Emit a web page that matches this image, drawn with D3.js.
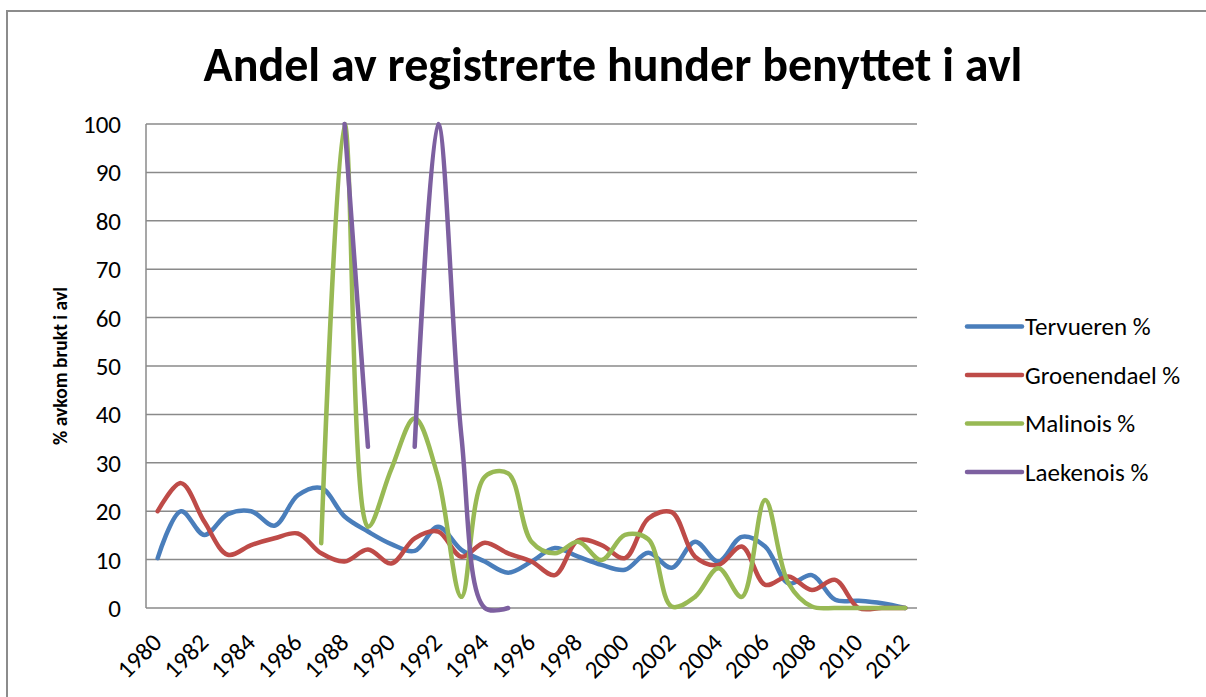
<!DOCTYPE html>
<html>
<head>
<meta charset="utf-8">
<script src="https://cdn.jsdelivr.net/npm/d3@7"></script>
<style>
  body { margin: 0; background: #fff; }
  svg { display: block; font-family: Carlito, Calibri, Lato, sans-serif; }
</style>
</head>
<body>
<div id="chart"></div>
<script>
// years on the x axis (one point per year)
const years = d3.range(1980, 2013)

// series values, null = no value that year
const tervueren = [10.3, 20, 15.1, 19.4, 20, 17, 23.3, 24.8, 18.9, 15.8, 13.2, 11.8, 16.8, 12, 9.6,
    7.3, 9.6, 12.4, 10.6, 8.9, 7.9, 11.4, 8.3, 13.7, 9.6, 14.7, 12.7, 5.1, 6.8, 1.7, 1.5, 1, 0]
const groenendael = [20, 25.8, 17.8, 11, 13, 14.4, 15.4, 11.3, 9.6, 12.1, 9.2, 14.4, 15.8, 10.6, 13.5,
    11.3, 9.6, 6.8, 14, 13, 10.3, 18.5, 19.8, 10.6, 8.9, 12.7, 4.8, 6.5, 3.7, 5.8, 0, 0, 0]
const malinois = [null, null, null, null, null, null, null, 13.4, 100, 16.8, 28.7, 39.2, 27, 2.3, 27.1,
    27.8, 13.7, 11.3, 13.7, 9.9, 15.1, 14.2, 0.3, 2.3, 8.2, 2.3, 22.3, 5.1, 0.3, 0, 0, 0, 0]
const laekenois = [null, null, null, null, null, null, null, null, 100, 33.3, null, 33.3, 100, 35.5, 0,
    0, null, null, null, null, null, null, null, null, null, null, null, null, null, null, null, null, null]

const seriesNames = ["Tervueren %", "Groenendael %", "Malinois %", "Laekenois %"]
const seriesColors = ["#4a7ebb", "#be4b48", "#98b954", "#7d60a0"]
const yTicks = d3.range(0, 101, 10)
const xLabels = years.filter(y => y % 2 === 0)

const titleText = "Andel av registrerte hunder benyttet i avl"
const yTitleText = "% avkom brukt i avl"

const series = [tervueren, groenendael, malinois, laekenois].map((values, i) => ({
    name: seriesNames[i],
    color: seriesColors[i],
    values: values
}))

const W = 1206, H = 697
const plot = { left: 146, right: 917, top: 124, bottom: 608 }
const labelSize = 25

const svg = d3.select("#chart")
    .append("svg")
    .attr("width", W)
    .attr("height", H)

// chart frame
svg.append("rect")
    .attr("x", 7)
    .attr("y", 11)
    .attr("width", W + 20)
    .attr("height", H + 20)
    .attr("fill", "#fff")
    .attr("stroke", "#8c8c8c")
    .attr("stroke-width", 2)

// scales
const x = d3.scalePoint()
    .domain(years)
    .range([plot.left, plot.right])
    .padding(0.5)

const y = d3.scaleLinear()
    .domain([0, 100])
    .range([plot.bottom, plot.top])

// horizontal gridlines
svg.append("g")
    .selectAll("line")
    .data(yTicks)
    .join("line")
    .attr("x1", plot.left)
    .attr("x2", plot.right)
    .attr("y1", d => y(d))
    .attr("y2", d => y(d))
    .attr("stroke", "#8a8a8a")
    .attr("stroke-width", 1.5)

// left axis line
svg.append("line")
    .attr("x1", plot.left)
    .attr("x2", plot.left)
    .attr("y1", y(100))
    .attr("y2", y(0))
    .attr("stroke", "#8a8a8a")
    .attr("stroke-width", 1.5)

// y axis labels
const yAxis = svg.append("g")
    .attr("transform", `translate(${plot.left - 25},0)`)
    .call(d3.axisLeft(y).tickValues(yTicks).tickSize(0).tickPadding(0))
yAxis.select(".domain").remove()
yAxis.selectAll("text")
    .attr("font-family", "Carlito, Calibri, Lato, sans-serif")
    .attr("font-size", labelSize)
    .attr("fill", "#000")
    .attr("dy", "0.34em")

// x axis labels, rotated
const xAxis = svg.append("g")
    .attr("transform", `translate(0,${plot.bottom})`)
    .call(d3.axisBottom(x).tickValues(xLabels).tickSize(0).tickPadding(0))
xAxis.select(".domain").remove()
xAxis.selectAll("text")
    .attr("font-family", "Carlito, Calibri, Lato, sans-serif")
    .attr("font-size", labelSize)
    .attr("fill", "#000")
    .style("text-anchor", "end")
    .attr("dy", 0)
    .attr("y", 0)
    .attr("transform", "translate(5,36) rotate(-45)")

// lines, centripetal smoothing keeps the overshoot small like the original
const line = d3.line()
    .defined(d => d.v !== null)
    .x(d => x(d.year))
    .y(d => y(d.v))
    .curve(d3.curveCatmullRom.alpha(0.5))

svg.append("g")
    .selectAll("path")
    .data(series)
    .join("path")
    .attr("d", s => line(s.values.map((v, i) => ({ year: years[i], v: v }))))
    .attr("fill", "none")
    .attr("stroke", s => s.color)
    .attr("stroke-width", 4.5)
    .attr("stroke-linecap", "round")
    .attr("stroke-linejoin", "round")

// title
const title = svg.append("text")
    .attr("x", 613)
    .attr("y", 81)
    .attr("text-anchor", "middle")
    .attr("font-weight", "bold")
    .attr("font-size", 44)
    .text(titleText)
// squeeze title to the width of the original
const tw = title.node().getComputedTextLength()
title.attr("font-size", 44 * 819 / tw)

// y axis title
const yTitle = svg.append("text")
    .attr("transform", "translate(67,366) rotate(-90)")
    .attr("text-anchor", "middle")
    .attr("font-weight", "bold")
    .attr("font-size", 20)
    .text(yTitleText)
const yw = yTitle.node().getComputedTextLength()
yTitle.attr("font-size", 20 * 158 / yw)

// legend
const legend = svg.append("g")
    .selectAll("g")
    .data(series)
    .join("g")
    .attr("transform", (d, i) => `translate(967,${326.5 + i * 48.5})`)

legend.append("line")
    .attr("x1", 0)
    .attr("x2", 55)
    .attr("stroke", d => d.color)
    .attr("stroke-width", 4.5)
    .attr("stroke-linecap", "round")

legend.append("text")
    .attr("x", 58)
    .attr("dy", "0.34em")
    .attr("font-size", labelSize)
    .text(d => d.name)
</script>
</body>
</html>
